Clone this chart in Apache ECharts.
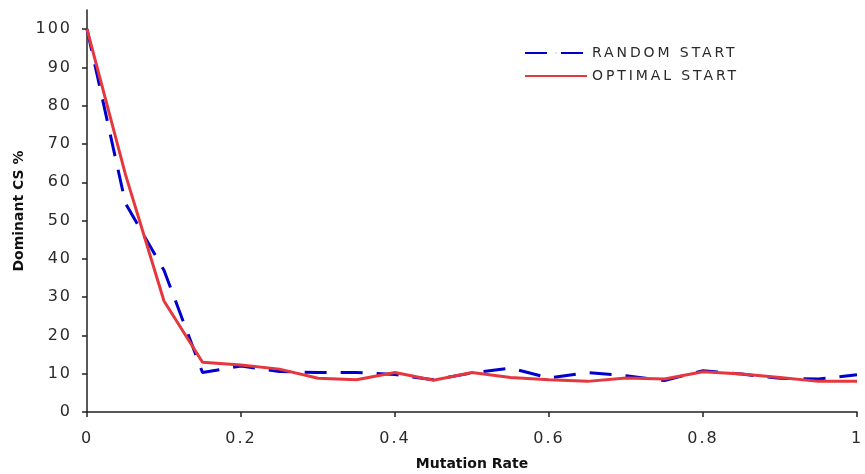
<!DOCTYPE html>
<html>
<head>
<meta charset="utf-8">
<script src="https://cdn.jsdelivr.net/npm/echarts@6/dist/echarts.min.js"></script>
<style>
  html, body { margin: 0; padding: 0; background: #fff; }
  #chart { width: 865px; height: 474px; }
</style>
</head>
<body>
<div id="chart"></div>
<script>
// Mutation rates sampled in steps of 0.05
const rates = [0, 0.05, 0.1, 0.15, 0.2, 0.25, 0.3, 0.35, 0.4, 0.45, 0.5,
               0.55, 0.6, 0.65, 0.7, 0.75, 0.8, 0.85, 0.9, 0.95, 1];
// Share of the dominant CS (%) per run type
const randomStart  = [100, 54.5, 37, 10.3, 12, 10.6, 10.3, 10.3, 9.8, 8.4, 10.2,
                      11.5, 8.9, 10.3, 9.5, 8.2, 10.8, 9.9, 8.8, 8.6, 9.7];
const optimalStart = [100, 62, 29, 13, 12.3, 11.2, 8.8, 8.4, 10.3, 8.3, 10.3,
                      9.0, 8.4, 8.0, 8.9, 8.6, 10.5, 9.9, 9.0, 8.0, 8.0];
const yTicks = [0, 10, 20, 30, 40, 50, 60, 70, 80, 90, 100];
const seriesNames = ['RANDOM START', 'OPTIMAL START'];

const pairs = (ys) => rates.map((x, i) => [x, ys[i]]);

// Tracked lettering for the tick labels and legend (bold titles stay tight)
(function () {
  const proto = CanvasRenderingContext2D.prototype;
  const origFill = proto.fillText;
  proto.fillText = function (text, x, y, maxWidth) {
    if ('letterSpacing' in this) {
      let sp = '2px';
      if (/bold/.test(this.font)) sp = '0px';
      else if (/\b14px/.test(this.font)) sp = '2.9px';
      this.letterSpacing = sp;
    }
    return maxWidth === undefined
      ? origFill.call(this, text, x, y)
      : origFill.call(this, text, x, y, maxWidth);
  };
})();

const labelFont = { fontFamily: 'DejaVu Sans', fontSize: 16, color: '#2a2a2a' };
const titleFont = { fontFamily: 'DejaVu Sans', fontSize: 14, fontWeight: 'bold', color: '#111' };

const chart = echarts.init(document.getElementById('chart'), null, { renderer: 'canvas' });
chart.setOption({
  animation: false,
  backgroundColor: '#fff',
  grid: { left: 87, right: 8, top: 10, bottom: 62, containLabel: false, outerBoundsMode: 'none' },
  legend: {
    orient: 'vertical',
    left: 519, top: 41,
    // a very flat key keeps the line sample plain (the marker shrinks to a speck)
    itemWidth: 62, itemHeight: 1, itemGap: 9,
    textStyle: { fontFamily: 'DejaVu Sans', fontSize: 14, color: '#2a2a2a' },
    data: seriesNames
  },
  xAxis: {
    type: 'value', min: 0, max: 1, interval: 0.2,
    name: 'Mutation Rate', nameLocation: 'middle', nameGap: 45, nameMoveOverlap: false,
    nameTextStyle: titleFont,
    axisLine: { show: true, onZero: false, lineStyle: { color: '#222', width: 1.5 } },
    axisTick: { show: true, length: 5, lineStyle: { color: '#222', width: 1.5 } },
    axisLabel: Object.assign({ margin: 19 }, labelFont),
    splitLine: { show: false }
  },
  yAxis: {
    type: 'value', min: 0, max: 105,
    name: 'Dominant CS %', nameLocation: 'middle', nameGap: 61, nameMoveOverlap: false,
    nameTextStyle: titleFont,
    axisLine: { show: true, lineStyle: { color: '#222', width: 1.5 } },
    axisTick: { show: true, length: 5, customValues: yTicks, lineStyle: { color: '#222', width: 1.5 } },
    axisLabel: Object.assign({ margin: 15, customValues: yTicks }, labelFont),
    splitLine: { show: false }
  },
  series: [
    {
      name: seriesNames[0], type: 'line', data: pairs(randomStart),
      showSymbol: false, symbol: 'none',
      lineStyle: { color: '#0000cc', width: 3, type: [22, 14] },
      itemStyle: { color: '#0000cc' }
    },
    {
      name: seriesNames[1], type: 'line', data: pairs(optimalStart),
      showSymbol: false, symbol: 'none',
      lineStyle: { color: '#e5383e', width: 3 },
      itemStyle: { color: '#e5383e' }
    }
  ]
});
</script>
</body>
</html>
